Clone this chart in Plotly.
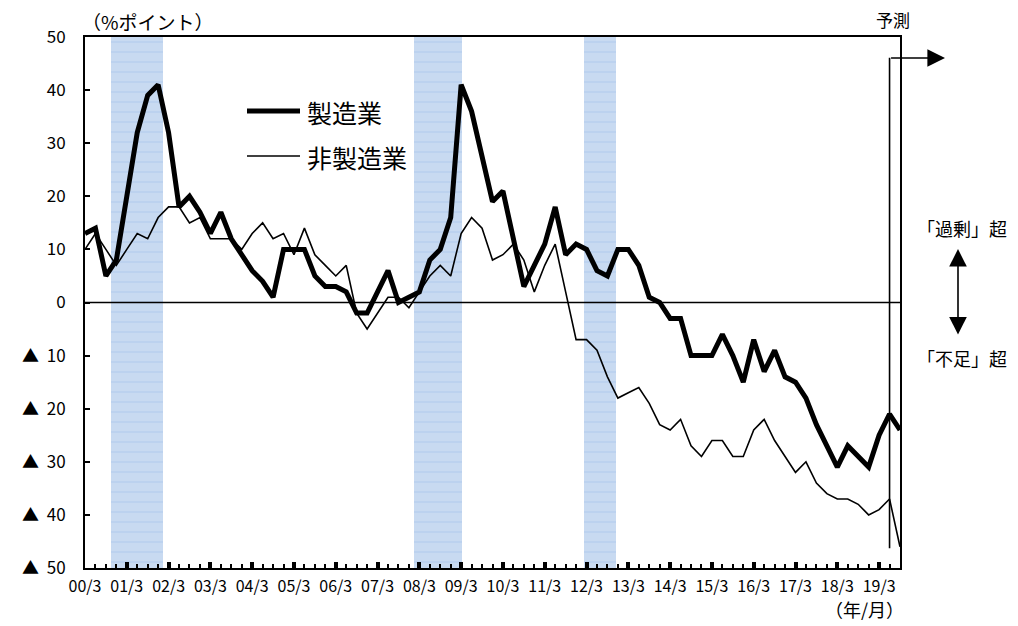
import plotly.graph_objects as go

# ---- data (quarterly, 2000/3 .. 2019/9, last point = forecast) ----
year_labels = ["00/3", "01/3", "02/3", "03/3", "04/3", "05/3", "06/3", "07/3", "08/3", "09/3",
               "10/3", "11/3", "12/3", "13/3", "14/3", "15/3", "16/3", "17/3", "18/3", "19/3"]

manufacturing = [13, 14, 5, 8, 20, 32, 39, 41, 32, 18, 20, 17, 13, 17, 12, 9, 6, 4, 1,
                 10, 10, 10, 5, 3, 3, 2, -2, -2, 2, 6, 0, 1, 2, 8, 10, 16, 41, 36, 27,
                 19, 21, 12, 3, 7, 11, 18, 9, 11, 10, 6, 5, 10, 10, 7, 1, 0, -3, -3, -10,
                 -10, -10, -6, -10, -15, -7, -13, -9, -14, -15, -18, -23, -27, -31, -27, -29, -31, -25, -21, -24]

non_manufacturing = [10, 13, 10, 7, 10, 13, 12, 16, 18, 18, 15, 16, 12, 12, 12, 10, 13, 15, 12,
                     13, 9, 14, 9, 7, 5, 7, -2, -5, -2, 1, 1, -1, 2, 5, 7, 5, 13, 16, 14,
                     8, 9, 11, 8, 2, 7, 11, 2, -7, -7, -9, -14, -18, -17, -16, -19, -23, -24, -22, -27,
                     -29, -26, -26, -29, -29, -24, -22, -26, -29, -32, -30, -34, -36, -37, -37, -38, -40, -39, -37, -46]

# recession periods (in quarter-index units)
recession_start = [2.46, 31.5, 47.8]
recession_end = [7.43, 36.1, 50.8]

forecast_start = 77  # 2019/6

y_tickvals = [50, 40, 30, 20, 10, 0, -10, -20, -30, -40, -50]
y_ticktext = ["50", "40", "30", "20", "10", "0",
              "▲\u00a0\u00a010", "▲\u00a0\u00a020", "▲\u00a0\u00a030", "▲\u00a0\u00a040", "▲\u00a0\u00a050"]

# ---- layout helpers (page pixels -> paper coords; page has 8px body margin) ----
OFF = 8
W, H = 1018 - OFF, 626 - OFF
L, T = 85 - OFF, 37 - OFF
PW, PH = 815, 531
R, B = W - L - PW, H - T - PH


def px(xp):
    return (xp - OFF - L) / PW


def py(yp):
    return 1 - (yp - OFF - T) / PH


FONT = "Noto Sans CJK JP, Noto Sans, sans-serif"
idx = list(range(len(manufacturing)))

fig = go.Figure()

for s, e in zip(recession_start, recession_end):
    fig.add_bar(x=[(s + e) / 2], y=[100], base=[-50], width=[e - s],
                marker=dict(color="#c8daf1", line_width=0,
                            pattern=dict(shape="-", fgcolor="#9fc0ea", bgcolor="#c8daf1",
                                         size=10, solidity=0.12)),
                showlegend=False, hoverinfo="skip")

fig.add_scatter(x=idx, y=non_manufacturing, mode="lines", name="非製造業",
                line=dict(color="black", width=1.6), showlegend=False)
fig.add_scatter(x=idx, y=manufacturing, mode="lines", name="製造業",
                line=dict(color="black", width=5), showlegend=False)

shapes = [
    # zero line
    dict(type="line", xref="paper", yref="y", x0=0, x1=1, y0=0, y1=0,
         line=dict(color="black", width=1.6), layer="above"),
    # forecast vertical line
    dict(type="line", xref="x", yref="y", x0=forecast_start, x1=forecast_start, y0=-46.3, y1=46.1,
         line=dict(color="black", width=1.6), layer="above"),
    # legend samples
    dict(type="line", xref="paper", yref="paper", x0=px(247), x1=px(300), y0=py(111), y1=py(111),
         line=dict(color="black", width=5)),
    dict(type="line", xref="paper", yref="paper", x0=px(247), x1=px(300), y0=py(156), y1=py(156),
         line=dict(color="black", width=1.6)),
]

annotations = [
    dict(text="雇用人員判断D.I.の推移", xref="paper", yref="paper", x=px(112), y=py(OFF + 5),
         xanchor="left", yanchor="bottom", showarrow=False, font=dict(size=20, family=FONT, color="black")),
    dict(text="（%ポイント）", xref="paper", yref="paper", x=px(80), y=py(22),
         xanchor="left", yanchor="middle", showarrow=False, font=dict(size=19, family=FONT, color="black")),
    dict(text="（年/月）", xref="paper", yref="paper", x=px(864), y=py(609),
         xanchor="center", yanchor="middle", showarrow=False, font=dict(size=18, family=FONT, color="black")),
    dict(text="予測", xref="paper", yref="paper", x=px(893), y=py(19),
         xanchor="center", yanchor="middle", showarrow=False, font=dict(size=17, family=FONT, color="black")),
    dict(text="「過剰」超", xref="paper", yref="paper", x=px(962), y=py(228),
         xanchor="center", yanchor="middle", showarrow=False, font=dict(size=18, family=FONT, color="black")),
    dict(text="「不足」超", xref="paper", yref="paper", x=px(962), y=py(358),
         xanchor="center", yanchor="middle", showarrow=False, font=dict(size=18, family=FONT, color="black")),
    dict(text="製造業", xref="paper", yref="paper", x=px(305), y=py(112),
         xanchor="left", yanchor="middle", showarrow=False, font=dict(size=25, family=FONT, color="black")),
    dict(text="非製造業", xref="paper", yref="paper", x=px(305), y=py(157),
         xanchor="left", yanchor="middle", showarrow=False, font=dict(size=25, family=FONT, color="black")),
    # forecast arrow
    dict(text="", xref="paper", yref="paper", x=px(945), y=py(58), axref="pixel", ayref="pixel",
         ax=-(945 - (85 + PW * forecast_start / 78)), ay=0, showarrow=True,
         arrowhead=2, arrowsize=2.2, arrowwidth=1.6, arrowcolor="black", standoff=0, startstandoff=0),
    # double arrow
    dict(text="", xref="paper", yref="paper", x=px(958), y=py(249), axref="pixel", ayref="pixel",
         ax=0, ay=87, showarrow=True, arrowside="end+start",
         arrowhead=2, arrowsize=2.2, arrowwidth=1.6, arrowcolor="black", standoff=0, startstandoff=0),
]

fig.update_layout(
    width=W, height=H,
    margin=dict(l=L, r=R, t=T, b=B, autoexpand=False),
    paper_bgcolor="white", plot_bgcolor="white",
    barmode="overlay", bargap=0,
    font=dict(family=FONT, color="black", size=16),
    shapes=shapes, annotations=annotations,
    xaxis=dict(range=[0, 78], tickmode="array", tickvals=list(range(0, 79, 4)), ticktext=year_labels,
               ticks="inside", ticklen=6, tickwidth=4, tickcolor="black",
               minor=dict(tickmode="linear", tick0=0, dtick=1, ticks="inside", ticklen=4,
                          tickwidth=1.5, tickcolor="black"),
               showline=True, linecolor="black", linewidth=2, mirror=True,
               showgrid=False, zeroline=False, tickangle=0,
               tickfont=dict(size=16, family=FONT, color="black"), ticklabelstandoff=3),
    yaxis=dict(range=[-50, 50], tickmode="array", tickvals=y_tickvals, ticktext=y_ticktext,
               ticks="inside", ticklen=5, tickwidth=1.5, tickcolor="black",
               showline=True, linecolor="black", linewidth=2, mirror=True,
               showgrid=False, zeroline=False,
               tickfont=dict(size=17, family=FONT, color="black"), ticklabelstandoff=14),
)

fig.write_html("out.html")
